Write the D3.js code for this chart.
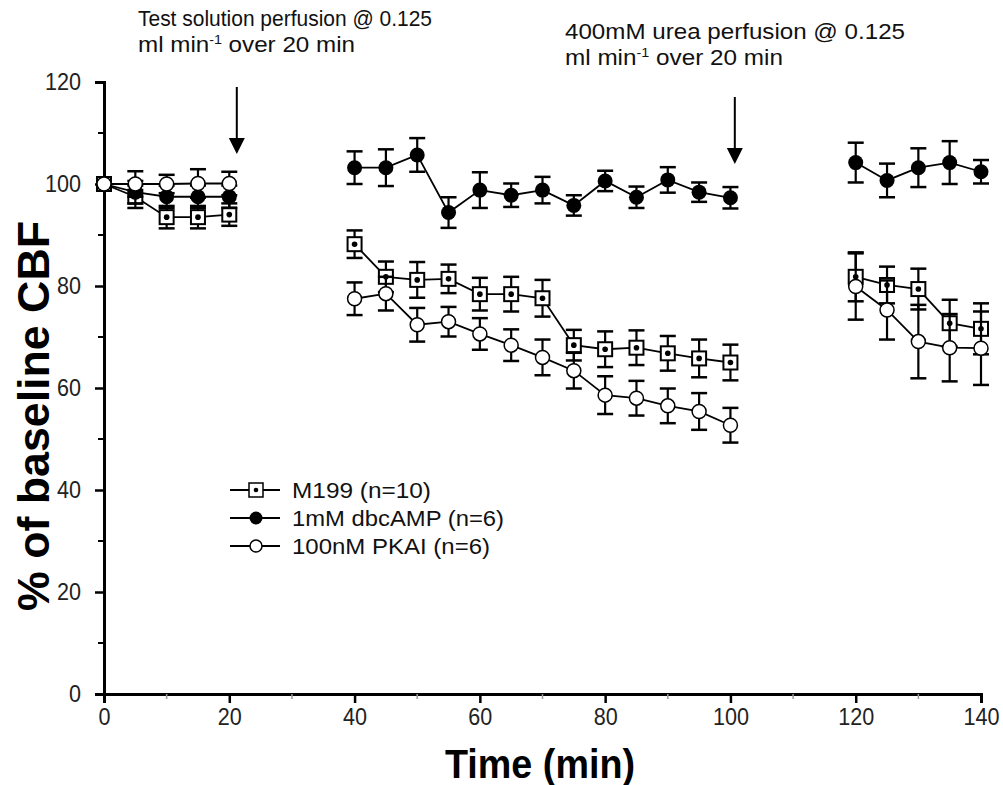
<!DOCTYPE html>
<html>
<head>
<meta charset="utf-8">
<script src="https://cdn.jsdelivr.net/npm/d3@7"></script>
<style>
  body { margin: 0; background: #fff; }
  svg { display: block; font-family: "Liberation Sans", Arial, sans-serif; }
</style>
</head>
<body>
<svg width="1003" height="785"></svg>
<script>
// sample times (min); gaps between runs are breaks in the recording
let times = [0, 5, 10, 15, 20,
             40, 45, 50, 55, 60, 65, 70, 75, 80, 85, 90, 95, 100,
             120, 125, 130, 135, 140];

let m199 = [100, 97.5, 93.5, 93.5, 94,
            88.2, 81.8, 81.2, 81.4, 78.4, 78.4, 77.6, 68.4, 67.6, 67.9, 66.8, 65.8, 65,
            81.8, 80.2, 79.4, 72.7, 71.6];
let m199Err = [0, 2.2, 2.2, 2.2, 2.2,
               2.7, 3, 3.5, 2.8, 3.2, 3.4, 3.6, 3, 3.5, 3.4, 3.4, 3.7, 3.5,
               4.8, 3.6, 4, 4.6, 5];

let dbcamp = [100, 98.4, 97.5, 97.5, 97.5,
              103.2, 103.2, 105.7, 94.4, 98.8, 97.8, 98.8, 95.8, 100.6, 97.4, 100.8, 98.4, 97.3,
              104.2, 100.7, 103.2, 104.2, 102.4];
let dbcampErr = [0, 2.2, 2.2, 2.2, 2.2,
                 3.2, 3.6, 3.3, 3, 3.5, 2.3, 2.6, 2, 2, 2.1, 2.5, 1.9, 2.1,
                 3.9, 3.3, 3.8, 4.2, 2.3];

let pkai = [100, 100, 100, 100.1, 100.1,
            77.5, 78.5, 72.4, 73, 70.6, 68.4, 66, 63.4, 58.6, 58, 56.5, 55.4, 52.7,
            79.9, 75.3, 69.1, 67.9, 67.8];
let pkaiErr = [0, 2.5, 1.8, 2.8, 2.3,
               3.2, 3.3, 3.3, 2.9, 3.1, 3.1, 3.5, 3.5, 3.7, 3.4, 3.4, 3.6, 3.4,
               6.5, 5.8, 7.2, 6.6, 7.2];

let seriesNames = ['M199 (n=10)', '1mM dbcAMP (n=6)', '100nM PKAI (n=6)'];
let xTicks = [0, 20, 40, 60, 80, 100, 120, 140];
let yTicks = [0, 20, 40, 60, 80, 100, 120];
let arrowTimes = [21.2, 100.7];

let svg = d3.select('svg');

let xScale = d3.scaleLinear().domain([0, 140]).range([104, 981]);
let yScale = d3.scaleLinear().domain([0, 120]).range([694, 82]);

// axes
let xAxis = d3.axisBottom(xScale).tickValues(xTicks).tickSize(9).tickPadding(6);
let yAxis = d3.axisLeft(yScale).tickValues(yTicks).tickSize(9).tickPadding(14);

let gx = svg.append('g').attr('transform', 'translate(0,694)').call(xAxis);
let gy = svg.append('g').attr('transform', 'translate(104,0)').call(yAxis);

[gx, gy].forEach(g => {
    g.select('.domain').attr('stroke', '#000').attr('stroke-width', 3);
    g.selectAll('.tick line').attr('stroke', '#000').attr('stroke-width', 2.5);
    g.selectAll('.tick text')
        .attr('fill', '#222')
        .attr('font-size', 23)
        .attr('font-family', '"Liberation Sans", Arial, sans-serif')
        .attr('textLength', d => String(d).length * 12)
        .attr('lengthAdjust', 'spacingAndGlyphs');
});

// minor ticks
let minor = [10, 30, 50, 70, 90, 110, 130];
svg.append('g').selectAll('line').data(minor).enter().append('line')
    .attr('x1', d => xScale(d)).attr('x2', d => xScale(d))
    .attr('y1', 694).attr('y2', 699)
    .attr('stroke', '#999').attr('stroke-width', 1.5);
svg.append('g').selectAll('line').data([10, 30, 50, 70, 90, 110]).enter().append('line')
    .attr('x1', 98).attr('x2', 104)
    .attr('y1', d => yScale(d)).attr('y2', d => yScale(d))
    .attr('stroke', '#000').attr('stroke-width', 2);

// axis titles
svg.append('text')
    .attr('x', 540).attr('y', 778)
    .attr('text-anchor', 'middle')
    .attr('font-size', 40).attr('font-weight', 'bold')
    .attr('textLength', 190).attr('lengthAdjust', 'spacingAndGlyphs')
    .text('Time (min)');

svg.append('text')
    .attr('transform', 'translate(49,416) rotate(-90)')
    .attr('text-anchor', 'middle')
    .attr('font-size', 44).attr('font-weight', 'bold')
    .attr('textLength', 390).attr('lengthAdjust', 'spacingAndGlyphs')
    .text('% of baseline CBF');

// split points into runs that are drawn as separate lines
function runs(values, errs) {
    let out = [], cur = [];
    times.forEach((t, i) => {
        if (i > 0 && t - times[i - 1] > 5) { out.push(cur); cur = []; }
        cur.push({ t: t, v: values[i], e: errs[i] });
    });
    out.push(cur);
    return out;
}

let line = d3.line().x(d => xScale(d.t)).y(d => yScale(d.v));

let series = [
    { vals: m199, errs: m199Err, kind: 'square' },
    { vals: dbcamp, errs: dbcampErr, kind: 'filled' },
    { vals: pkai, errs: pkaiErr, kind: 'open' }
];

function drawMarker(g, kind, x, y) {
    if (kind === 'square') {
        g.append('rect').attr('x', x - 7).attr('y', y - 7).attr('width', 14).attr('height', 14)
            .attr('fill', '#fff').attr('stroke', '#000').attr('stroke-width', 2);
        g.append('circle').attr('cx', x).attr('cy', y).attr('r', 2.8).attr('fill', '#000');
    } else if (kind === 'filled') {
        g.append('circle').attr('cx', x).attr('cy', y).attr('r', 7.5).attr('fill', '#000');
    } else {
        g.append('circle').attr('cx', x).attr('cy', y).attr('r', 7)
            .attr('fill', '#fff').attr('stroke', '#000').attr('stroke-width', 1.5);
    }
}

series.forEach(s => {
    let g = svg.append('g');
    runs(s.vals, s.errs).forEach(r => {
        g.append('path').datum(r).attr('d', line)
            .attr('fill', 'none').attr('stroke', '#000').attr('stroke-width', 1.8);
    });
    s.vals.forEach((v, i) => {
        if (s.errs[i] <= 0) return;
        let x = xScale(times[i]);
        let y1 = yScale(v + s.errs[i]), y2 = yScale(v - s.errs[i]);
        g.append('line').attr('x1', x).attr('x2', x).attr('y1', y1).attr('y2', y2)
            .attr('stroke', '#000').attr('stroke-width', 2.2);
        [y1, y2].forEach(yy => {
            g.append('line').attr('x1', x - 8).attr('x2', x + 8).attr('y1', yy).attr('y2', yy)
                .attr('stroke', '#000').attr('stroke-width', 2.5);
        });
    });
    s.vals.forEach((v, i) => drawMarker(g, s.kind, xScale(times[i]), yScale(v)));
});

// annotations
function note(x, y, first, w1, w2) {
    svg.append('text').attr('x', x).attr('y', y).attr('font-size', 22).attr('fill', '#111')
        .attr('textLength', w1).attr('lengthAdjust', 'spacingAndGlyphs')
        .text(first);
    let t2 = svg.append('text').attr('x', x).attr('y', y + 26).attr('font-size', 22).attr('fill', '#111')
        .attr('textLength', w2).attr('lengthAdjust', 'spacingAndGlyphs');
    t2.append('tspan').text('ml min');
    t2.append('tspan').attr('font-size', 13).attr('dy', -8).text('-1');
    t2.append('tspan').attr('dy', 8).text(' over 20 min');
}
note(138, 26, 'Test solution perfusion @ 0.125', 294, 217);
note(565, 39, '400mM urea perfusion @ 0.125', 340, 218);

let arrowTops = [87, 97];
arrowTimes.forEach((t, i) => {
    let x = xScale(t);
    let top = arrowTops[i], tip = top + 67;
    svg.append('line').attr('x1', x).attr('x2', x).attr('y1', top).attr('y2', tip - 12)
        .attr('stroke', '#000').attr('stroke-width', 2);
    svg.append('path')
        .attr('d', `M${x - 8},${tip - 16} L${x + 8},${tip - 16} L${x},${tip} Z`)
        .attr('fill', '#000');
});

// legend
let legend = svg.append('g');
let kinds = ['square', 'filled', 'open'];
let legendWidths = [139, 212, 198];
seriesNames.forEach((name, i) => {
    let y = 490 + i * 28;
    legend.append('line').attr('x1', 230).attr('x2', 280).attr('y1', y).attr('y2', y)
        .attr('stroke', '#000').attr('stroke-width', 2);
    let mg = legend.append('g');
    if (kinds[i] === 'square') {
        mg.append('rect').attr('x', 249).attr('y', y - 7).attr('width', 14).attr('height', 14)
            .attr('fill', '#fff').attr('stroke', '#000').attr('stroke-width', 1.5);
        mg.append('circle').attr('cx', 256).attr('cy', y).attr('r', 2.3).attr('fill', '#000');
    } else if (kinds[i] === 'filled') {
        mg.append('circle').attr('cx', 256).attr('cy', y).attr('r', 6.5).attr('fill', '#000');
    } else {
        mg.append('circle').attr('cx', 256).attr('cy', y).attr('r', 6)
            .attr('fill', '#fff').attr('stroke', '#000').attr('stroke-width', 1.5);
    }
    legend.append('text').attr('x', 292).attr('y', y + 8)
        .attr('font-size', 22).attr('fill', '#111')
        .attr('textLength', legendWidths[i]).attr('lengthAdjust', 'spacingAndGlyphs')
        .text(name);
});
</script>
</body>
</html>
